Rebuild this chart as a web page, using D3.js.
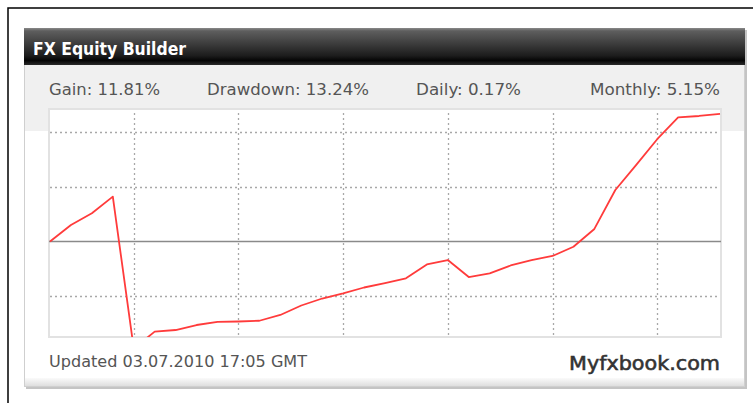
<!DOCTYPE html>
<html>
<head>
<meta charset="utf-8">
<script src="https://cdn.jsdelivr.net/npm/d3@7"></script>
<style>
  html, body { margin: 0; padding: 0; background: #fff; }
  svg { display: block; }
</style>
</head>
<body>
<svg width="753" height="403"></svg>
<script>
// daily equity growth in %
const days = d3.range(33);
const equity = [0, 1.51, 2.59, 4.11, -9.81, -8.27, -8.12, -7.66, -7.38, -7.34, -7.27,
    -6.74, -5.87, -5.23, -4.75, -4.22, -3.81, -3.38, -2.11, -1.70, -3.26, -2.92,
    -2.20, -1.70, -1.33, -0.48, 1.15, 4.72, 7.02, 9.38, 11.38, 11.51, 11.70];
const xGrid = [4, 9, 14, 19, 24, 29];
const yGrid = [-5, 5, 10];

const title = "FX Equity Builder";
const statLabels = ["Gain", "Drawdown", "Daily", "Monthly"];
const statValues = ["11.81%", "13.24%", "0.17%", "5.15%"];
const updated = "Updated 03.07.2010 17:05 GMT";
const brand = "Myfxbook.com";

const font = "'DejaVu Sans Condensed', 'DejaVu Sans', sans-serif";
const svg = d3.select("svg");
const defs = svg.append("defs");

// outer frame (goes past the window on right / bottom)
svg.append("rect")
    .attr("x", 8).attr("y", 8).attr("width", 800).attr("height", 500)
    .attr("fill", "#fff").attr("stroke", "#000").attr("stroke-width", 1.5);

// panel
let foot = defs.append("linearGradient").attr("id", "foot").attr("x1", 0).attr("y1", 0).attr("x2", 0).attr("y2", 1);
foot.append("stop").attr("offset", "0%").attr("stop-color", "#fafafa");
foot.append("stop").attr("offset", "100%").attr("stop-color", "#dedede");

svg.append("rect")
    .attr("x", 26).attr("y", 30).attr("width", 721).attr("height", 359)
    .attr("fill", "#c4c4c4");
svg.append("rect")
    .attr("x", 24.5).attr("y", 28.5).attr("width", 720).attr("height", 358)
    .attr("fill", "#fff").attr("stroke", "#cfcfcf");
svg.append("rect")
    .attr("x", 25).attr("y", 378).attr("width", 719).attr("height", 8)
    .attr("fill", "url(#foot)");

// title bar
let bar = defs.append("linearGradient").attr("id", "bar").attr("x1", 0).attr("y1", 0).attr("x2", 0).attr("y2", 1);
[["0%", "#8a8a8a"], ["8%", "#5e5e5e"], ["45%", "#3a3a3a"], ["75%", "#1c1c1c"], ["88%", "#050505"], ["100%", "#2a2a2a"]]
    .forEach(s => bar.append("stop").attr("offset", s[0]).attr("stop-color", s[1]));
svg.append("rect")
    .attr("x", 24).attr("y", 28).attr("width", 721).attr("height", 37)
    .attr("fill", "url(#bar)");
svg.append("text")
    .attr("x", 33).attr("y", 54.5)
    .attr("font-family", font).attr("font-size", 17).attr("font-weight", "bold")
    .attr("fill", "#fff")
    .attr("textLength", 153).attr("lengthAdjust", "spacingAndGlyphs")
    .text(title);

// stats band
svg.append("rect")
    .attr("x", 25).attr("y", 65).attr("width", 719).attr("height", 66)
    .attr("fill", "#f0f0f0");

const statX = [49, 207, 416, 590];
const statW = [111, 162, 105, 130];
svg.selectAll("text.stat")
    .data(statLabels)
    .enter()
    .append("text")
    .attr("class", "stat")
    .attr("x", (d, i) => statX[i]).attr("y", 95)
    .attr("font-family", font).attr("font-size", 15)
    .attr("fill", "#555")
    .attr("textLength", (d, i) => statW[i]).attr("lengthAdjust", "spacingAndGlyphs")
    .text((d, i) => d + ": " + statValues[i]);

// plot
const x = d3.scaleLinear().domain([0, 32]).range([50, 720]);
const y = d3.scaleLinear().domain([-8.76, 12.15]).range([337, 109]);

svg.append("rect")
    .attr("x", 49).attr("y", 109).attr("width", 672).attr("height", 228)
    .attr("fill", "#fff").attr("stroke", "#e2e2e2").attr("stroke-width", 2);

defs.append("clipPath").attr("id", "plotclip")
    .append("rect").attr("x", 49).attr("y", 109).attr("width", 672).attr("height", 228);

svg.selectAll("line.hgrid")
    .data(yGrid)
    .enter()
    .append("line")
    .attr("class", "hgrid")
    .attr("x1", 50).attr("x2", 720)
    .attr("y1", d => Math.round(y(d)) + 0.5).attr("y2", d => Math.round(y(d)) + 0.5)
    .attr("stroke", "#a8a8a8").attr("stroke-width", 1.3)
    .attr("stroke-dasharray", "2,3");

svg.selectAll("line.vgrid")
    .data(xGrid)
    .enter()
    .append("line")
    .attr("class", "vgrid")
    .attr("x1", d => Math.round(x(d)) + 0.5).attr("x2", d => Math.round(x(d)) + 0.5)
    .attr("y1", 113).attr("y2", 336)
    .attr("stroke", "#a8a8a8").attr("stroke-width", 1.3)
    .attr("stroke-dasharray", "2,3");

svg.append("line")
    .attr("x1", 49).attr("x2", 721)
    .attr("y1", y(0)).attr("y2", y(0))
    .attr("stroke", "#8a8a8a").attr("stroke-width", 1.6);

const line = d3.line()
    .x((d, i) => x(days[i]))
    .y(d => y(d));

svg.append("path")
    .datum(equity)
    .attr("clip-path", "url(#plotclip)")
    .attr("d", line)
    .attr("fill", "none")
    .attr("stroke", "#ff3b3b")
    .attr("stroke-width", 1.8)
    .attr("stroke-linejoin", "round");

// footer
svg.append("text")
    .attr("x", 49).attr("y", 367)
    .attr("font-family", font).attr("font-size", 15)
    .attr("fill", "#555")
    .attr("textLength", 258).attr("lengthAdjust", "spacingAndGlyphs")
    .text(updated);

svg.append("text")
    .attr("x", 569).attr("y", 370)
    .attr("font-family", font).attr("font-size", 19)
    .attr("fill", "#333")
    .attr("stroke", "#333").attr("stroke-width", 0.5)
    .attr("textLength", 151).attr("lengthAdjust", "spacingAndGlyphs")
    .text(brand);
</script>
</body>
</html>
